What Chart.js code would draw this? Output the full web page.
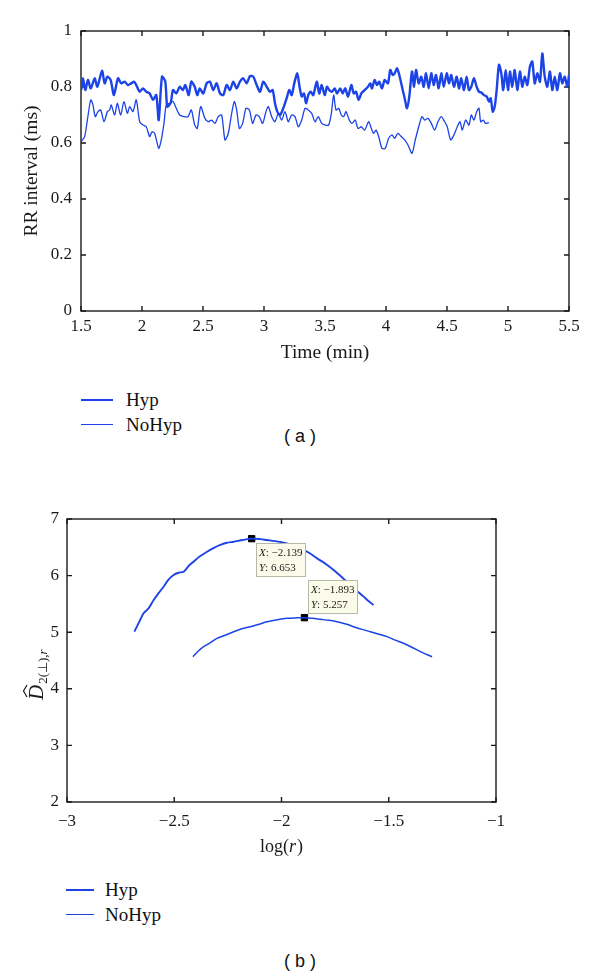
<!DOCTYPE html>
<html>
<head>
<meta charset="utf-8">
<script src="https://cdn.jsdelivr.net/npm/chart.js@4.4.1/dist/chart.umd.min.js"></script>
<style>
  body { margin: 0; background: #fff; width: 600px; height: 978px; position: relative; overflow: hidden; }
  canvas { position: absolute; left: 0; }
  #chartA { top: 0; }
  #chartB { top: 488px; }
  .legend { position: absolute; font-family: "Liberation Serif", "Times New Roman", serif; font-size: 19px; color: #111; }
  .legend .row { position: relative; height: 24.5px; }
  .legend .swatch { position: absolute; left: 0; }
  .legend .txt { position: absolute; top: 0; line-height: 24px; white-space: nowrap; }
  .cap { position: absolute; left: 0; width: 600px; text-align: center; font-family: "Liberation Sans", Arial, sans-serif; font-size: 18px; color: #111; }
</style>
</head>
<body>
<canvas id="chartA" width="600" height="369"></canvas>
<canvas id="chartB" width="600" height="373"></canvas>
<div class="legend" id="legendA" style="left:81px; top:388px;"></div>
<div class="cap" style="top:426px;">( a )</div>
<div class="legend" id="legendB" style="left:66px; top:878px;"></div>
<div class="cap" style="top:951px;">( b )</div>
<script>
const BLUE = '#1c43e6';
const INK = '#1a1a1a';
const SERIF = '"Liberation Serif", "Times New Roman", serif';

// (a) RR interval vs time, pairs of [time (min), RR]
const hypRR = [
  [1.502,.789],[1.516,.831],[1.535,.789],[1.557,.825],[1.580,.795],[1.612,.831],[1.634,.801],[1.672,.858],[1.694,.813],[1.716,.837],
  [1.743,.825],[1.770,.771],[1.803,.831],[1.830,.813],[1.858,.819],[1.885,.807],[1.912,.813],[1.934,.819],[1.953,.807],[1.981,.783],
  [2.008,.795],[2.035,.783],[2.063,.777],[2.090,.754],[2.117,.771],[2.137,.682],[2.164,.837],[2.191,.819],[2.207,.730],[2.235,.743],
  [2.254,.789],[2.281,.777],[2.309,.801],[2.336,.789],[2.355,.807],[2.383,.771],[2.404,.819],[2.432,.801],[2.453,.771],[2.473,.795],
  [2.502,.777],[2.530,.813],[2.557,.819],[2.584,.789],[2.612,.813],[2.639,.777],[2.666,.771],[2.694,.807],[2.721,.789],[2.748,.819],
  [2.776,.795],[2.803,.819],[2.830,.831],[2.858,.813],[2.885,.839],[2.912,.837],[2.940,.807],[2.967,.783],[2.994,.819],[3.022,.801],
  [3.049,.783],[3.071,.789],[3.090,.742],[3.109,.712],[3.131,.700],[3.158,.724],[3.186,.760],[3.207,.789],[3.227,.771],[3.248,.813],
  [3.273,.849],[3.289,.807],[3.309,.766],[3.328,.777],[3.344,.742],[3.363,.771],[3.383,.783],[3.404,.771],[3.432,.819],[3.453,.777],
  [3.473,.807],[3.498,.771],[3.516,.801],[3.535,.789],[3.557,.783],[3.580,.795],[3.598,.777],[3.625,.795],[3.645,.777],[3.666,.795],
  [3.689,.766],[3.716,.807],[3.735,.777],[3.754,.783],[3.776,.754],[3.798,.777],[3.825,.789],[3.852,.801],[3.871,.813],[3.885,.795],
  [3.907,.825],[3.926,.807],[3.945,.819],[3.967,.795],[3.989,.825],[4.016,.813],[4.035,.861],[4.055,.843],[4.071,.849],[4.090,.867],
  [4.109,.843],[4.131,.801],[4.153,.760],[4.172,.724],[4.191,.766],[4.213,.855],[4.230,.801],[4.246,.861],[4.268,.813],[4.289,.837],
  [4.309,.801],[4.328,.849],[4.350,.795],[4.371,.849],[4.391,.807],[4.410,.843],[4.432,.795],[4.453,.849],[4.473,.801],[4.498,.849],
  [4.516,.813],[4.535,.843],[4.557,.801],[4.580,.837],[4.598,.795],[4.617,.831],[4.639,.789],[4.661,.837],[4.680,.789],[4.699,.801],
  [4.721,.831],[4.743,.801],[4.762,.783],[4.781,.780],[4.803,.771],[4.825,.766],[4.844,.748],[4.858,.760],[4.875,.712],[4.891,.730],
  [4.907,.789],[4.926,.879],[4.945,.849],[4.961,.789],[4.981,.861],[5.000,.789],[5.016,.855],[5.035,.801],[5.055,.861],[5.076,.789],
  [5.098,.855],[5.117,.801],[5.137,.837],[5.158,.807],[5.180,.873],[5.199,.891],[5.219,.813],[5.240,.849],[5.262,.819],[5.281,.920],
  [5.301,.837],[5.322,.801],[5.344,.855],[5.363,.789],[5.383,.837],[5.404,.789],[5.426,.849],[5.445,.813],[5.465,.837],[5.486,.801],
  [5.500,.843]
];
const noHypRR = [
  [1.502,.605],[1.530,.623],[1.552,.682],[1.580,.754],[1.598,.736],[1.617,.694],[1.639,.712],[1.661,.718],[1.689,.676],[1.716,.712],
  [1.735,.718],[1.748,.736],[1.776,.700],[1.798,.742],[1.825,.700],[1.852,.748],[1.880,.706],[1.899,.730],[1.926,.712],[1.953,.754],
  [1.981,.676],[2.008,.664],[2.035,.658],[2.063,.623],[2.082,.640],[2.104,.634],[2.137,.581],[2.158,.611],[2.180,.670],[2.199,.736],
  [2.227,.742],[2.254,.748],[2.281,.724],[2.309,.700],[2.344,.694],[2.377,.694],[2.404,.718],[2.432,.664],[2.453,.652],[2.481,.730],
  [2.516,.688],[2.543,.676],[2.571,.682],[2.598,.670],[2.625,.694],[2.653,.700],[2.680,.611],[2.707,.634],[2.735,.706],[2.757,.748],
  [2.776,.718],[2.798,.652],[2.825,.670],[2.852,.724],[2.880,.718],[2.907,.670],[2.934,.700],[2.961,.694],[2.989,.670],[3.016,.712],
  [3.035,.730],[3.063,.694],[3.090,.676],[3.117,.706],[3.145,.682],[3.172,.712],[3.199,.676],[3.227,.700],[3.254,.694],[3.281,.658],
  [3.309,.682],[3.336,.724],[3.363,.718],[3.391,.706],[3.418,.676],[3.445,.694],[3.473,.670],[3.502,.664],[3.530,.664],[3.552,.706],
  [3.571,.771],[3.590,.718],[3.612,.724],[3.634,.700],[3.653,.694],[3.672,.712],[3.699,.682],[3.721,.670],[3.748,.682],[3.770,.652],
  [3.798,.658],[3.825,.646],[3.858,.676],[3.880,.652],[3.899,.634],[3.918,.646],[3.940,.623],[3.967,.581],[3.994,.581],[4.022,.617],
  [4.049,.629],[4.071,.617],[4.098,.634],[4.125,.623],[4.153,.611],[4.180,.593],[4.213,.563],[4.240,.611],[4.268,.658],[4.295,.694],
  [4.317,.682],[4.344,.688],[4.371,.670],[4.399,.646],[4.426,.676],[4.453,.694],[4.481,.676],[4.502,.658],[4.530,.611],[4.557,.629],
  [4.584,.658],[4.607,.676],[4.625,.646],[4.653,.682],[4.680,.664],[4.699,.700],[4.721,.682],[4.743,.712],[4.762,.724],[4.776,.676],
  [4.798,.682],[4.816,.670],[4.844,.673]
];
const timeTicks = [1.5, 2, 2.5, 3, 3.5, 4, 4.5, 5, 5.5];
const rrTicks = [0, 0.2, 0.4, 0.6, 0.8, 1];

// (b) correlation dimension estimate vs log(r), pairs of [log r, D2]
const hypD2 = [
  [-2.686,5.009],[-2.665,5.17],[-2.643,5.334],[-2.62,5.42],[-2.596,5.569],[-2.573,5.69],[-2.550,5.804],[-2.527,5.93],[-2.503,6.011],
  [-2.48,6.05],[-2.456,6.069],[-2.433,6.17],[-2.410,6.246],[-2.38,6.34],[-2.347,6.422],[-2.315,6.49],[-2.285,6.541],[-2.255,6.58],
  [-2.223,6.599],[-2.18,6.63],[-2.139,6.653],[-2.10,6.645],[-2.068,6.629],[-2.03,6.61],[-1.990,6.581],[-1.95,6.54],[-1.912,6.482],
  [-1.87,6.40],[-1.834,6.305],[-1.795,6.21],[-1.757,6.099],[-1.718,5.97],[-1.679,5.834],[-1.648,5.73],[-1.617,5.628],[-1.595,5.55],
  [-1.571,5.481]
];
const noHypD2 = [
  [-2.413,4.567],[-2.39,4.66],[-2.363,4.744],[-2.33,4.82],[-2.301,4.892],[-2.26,4.95],[-2.223,5.009],[-2.185,5.06],[-2.145,5.097],
  [-2.105,5.14],[-2.068,5.186],[-2.02,5.22],[-1.974,5.245],[-1.935,5.253],[-1.893,5.257],[-1.855,5.245],[-1.819,5.228],[-1.78,5.21],
  [-1.741,5.186],[-1.70,5.145],[-1.664,5.097],[-1.625,5.05],[-1.586,5.009],[-1.545,4.965],[-1.508,4.921],[-1.47,4.86],[-1.431,4.804],
  [-1.39,4.73],[-1.353,4.656],[-1.325,4.61],[-1.298,4.567]
];
const peakLogR = [-2.139, -1.893];
const peakD2 = [6.653, 5.257];
const logRTicks = [-3, -2.5, -2, -1.5, -1];
const d2Ticks = [2, 3, 4, 5, 6, 7];

const toXY = arr => arr.map(p => ({ x: p[0], y: p[1] }));
const fmt = v => String(Number(v.toFixed(3))).replace('-', '\u2212');

// MATLAB-like box with inward ticks
const boxPlugin = {
  id: 'box',
  beforeDatasetsDraw(chart) {
    const { ctx, chartArea: a, scales: { x, y } } = chart;
    ctx.save();
    ctx.strokeStyle = INK;
    ctx.lineWidth = 1.4;
    ctx.strokeRect(a.left, a.top, a.right - a.left, a.bottom - a.top);
    ctx.beginPath();
    x.ticks.forEach(t => {
      const px = x.getPixelForValue(t.value);
      ctx.moveTo(px, a.bottom); ctx.lineTo(px, a.bottom - 5);
      ctx.moveTo(px, a.top); ctx.lineTo(px, a.top + 5);
    });
    y.ticks.forEach(t => {
      const py = y.getPixelForValue(t.value);
      ctx.moveTo(a.left, py); ctx.lineTo(a.left + 5, py);
      ctx.moveTo(a.right, py); ctx.lineTo(a.right - 5, py);
    });
    ctx.stroke();
    ctx.restore();
  }
};

function scaleOpts(min, max, tickList, pad, size) {
  return {
    type: 'linear', min: min, max: max,
    grid: { display: false, drawTicks: false },
    border: { display: false },
    afterBuildTicks: s => { s.ticks = tickList.map(v => ({ value: v })); },
    ticks: { color: INK, padding: pad, font: { family: SERIF, size: 17 }, callback: v => fmt(v), maxRotation: 0, autoSkip: false },
    afterFit: size
  };
}

const chartA = new Chart(document.getElementById('chartA'), {
  type: 'line',
  data: {
    datasets: [
      { label: 'Hyp', data: toXY(hypRR), borderColor: BLUE, borderWidth: 2.4, pointRadius: 0, tension: 0.25 },
      { label: 'NoHyp', data: toXY(noHypRR), borderColor: BLUE, borderWidth: 1.3, pointRadius: 0, tension: 0.25 }
    ]
  },
  options: {
    responsive: false, animation: false,
    layout: { padding: { left: 16, top: 31, right: 31, bottom: 0 } },
    plugins: { legend: { display: false }, tooltip: { enabled: false } },
    scales: {
      x: Object.assign(scaleOpts(1.5, 5.5, timeTicks, 5, s => { s.height = 58; }),
        { title: { display: true, text: 'Time (min)', color: INK, font: { family: SERIF, size: 19.5 }, padding: { top: 4, bottom: 4 } } }),
      y: Object.assign(scaleOpts(0, 1, rrTicks, 9, s => { s.width = 65; }),
        { title: { display: true, text: 'RR interval (ms)', color: INK, font: { family: SERIF, size: 19.5 }, padding: { top: 4, bottom: 4 } } })
    }
  },
  plugins: [boxPlugin]
});

// data tips and axis titles with italic parts for (b)
const labelPlugin = {
  id: 'labelsB',
  afterDatasetsDraw(chart) {
    const { ctx, chartArea: a, scales: { x, y } } = chart;
    ctx.save();
    const offs = [[4.5, 4], [4, -38]];
    peakLogR.forEach((lx, i) => {
      const px = x.getPixelForValue(lx), py = y.getPixelForValue(peakD2[i]);
      const bx = Math.round(px + offs[i][0]), by = Math.round(py + offs[i][1]);
      ctx.fillStyle = '#fbfbe9';
      ctx.fillRect(bx, by, 49, 33);
      ctx.strokeStyle = '#b8b8a6';
      ctx.lineWidth = 1;
      ctx.strokeRect(bx + 0.5, by + 0.5, 49, 33);
      ctx.fillStyle = INK;
      ctx.textBaseline = 'alphabetic';
      ctx.textAlign = 'left';
      [['X', fmt(lx)], ['Y', fmt(peakD2[i])]].forEach((row, r) => {
        const ty = by + 13 + r * 15;
        ctx.font = 'italic 11px ' + SERIF;
        ctx.fillText(row[0], bx + 3, ty);
        const w = ctx.measureText(row[0]).width;
        ctx.font = '11px ' + SERIF;
        ctx.fillText(': ' + row[1], bx + 3 + w, ty);
      });
    });
    ctx.restore();
  },
  afterDraw(chart) {
    const { ctx, chartArea: a } = chart;
    ctx.save();
    ctx.fillStyle = INK;
    ctx.strokeStyle = INK;
    // x title: log(r)
    ctx.textBaseline = 'middle';
    ctx.textAlign = 'left';
    ctx.font = '18px ' + SERIF;
    const p1 = 'log(', p3 = ')';
    const w1 = ctx.measureText(p1).width, w3 = ctx.measureText(p3).width;
    ctx.font = 'italic 18px ' + SERIF;
    const w2 = ctx.measureText('r').width + 1;
    let sx = (a.left + a.right) / 2 - (w1 + w2 + w3) / 2;
    const cy = a.bottom + 45;
    ctx.font = '18px ' + SERIF; ctx.fillText(p1, sx, cy);
    ctx.font = 'italic 18px ' + SERIF; ctx.fillText('r', sx + w1, cy);
    ctx.font = '18px ' + SERIF; ctx.fillText(p3, sx + w1 + w2, cy);
    // y title: D-hat with subscript 2(perp),r, rotated
    ctx.translate(43, a.top + 181);
    ctx.rotate(-Math.PI / 2);
    ctx.textBaseline = 'alphabetic';
    ctx.font = 'italic 21px ' + SERIF;
    ctx.fillText('D', 0, 0);
    const dw = ctx.measureText('D').width;
    ctx.lineWidth = 1.2;
    ctx.beginPath();
    ctx.moveTo(3, -16); ctx.lineTo(9, -19.5); ctx.lineTo(15, -16);
    ctx.stroke();
    ctx.font = '13px ' + SERIF;
    const sub = '2(\u22a5),';
    ctx.fillText(sub, dw + 1, 4);
    const sw = ctx.measureText(sub).width;
    ctx.font = 'italic 13px ' + SERIF;
    ctx.fillText('r', dw + 1 + sw, 4);
    ctx.restore();
  }
};

const chartB = new Chart(document.getElementById('chartB'), {
  type: 'line',
  data: {
    datasets: [
      { label: 'Hyp', data: toXY(hypD2), borderColor: BLUE, borderWidth: 1.9, pointRadius: 0, tension: 0.3 },
      { label: 'NoHyp', data: toXY(noHypD2), borderColor: BLUE, borderWidth: 1.5, pointRadius: 0, tension: 0.3 },
      { data: peakLogR.map((v, i) => ({ x: v, y: peakD2[i] })), showLine: false, pointStyle: 'rect',
        pointRadius: 4.5, backgroundColor: '#000', borderColor: '#000', borderWidth: 1 }
    ]
  },
  options: {
    responsive: false, animation: false,
    layout: { padding: { left: 0, top: 31, right: 104, bottom: 0 } },
    plugins: { legend: { display: false }, tooltip: { enabled: false } },
    scales: {
      x: scaleOpts(-3, -1, logRTicks, 9, s => { s.height = 59; }),
      y: scaleOpts(2, 7, d2Ticks, 8, s => { s.width = 67; })
    }
  },
  plugins: [boxPlugin, labelPlugin]
});

// HTML legends built from the datasets
function buildLegend(id, chart, lineLen, textX, widths) {
  const el = document.getElementById(id);
  chart.data.datasets.filter(d => d.label).forEach((d, i) => {
    const row = document.createElement('div');
    row.className = 'row';
    const sw = document.createElement('div');
    sw.className = 'swatch';
    sw.style.width = lineLen + 'px';
    sw.style.top = (12.5 - widths[i] / 2) + 'px';
    sw.style.borderTop = widths[i] + 'px solid ' + d.borderColor;
    const t = document.createElement('div');
    t.className = 'txt';
    t.style.left = textX + 'px';
    t.textContent = d.label;
    row.appendChild(sw);
    row.appendChild(t);
    el.appendChild(row);
  });
}
buildLegend('legendA', chartA, 32, 45, [2.2, 1.4]);
buildLegend('legendB', chartB, 28, 39, [2.2, 1.4]);
</script>
</body>
</html>
